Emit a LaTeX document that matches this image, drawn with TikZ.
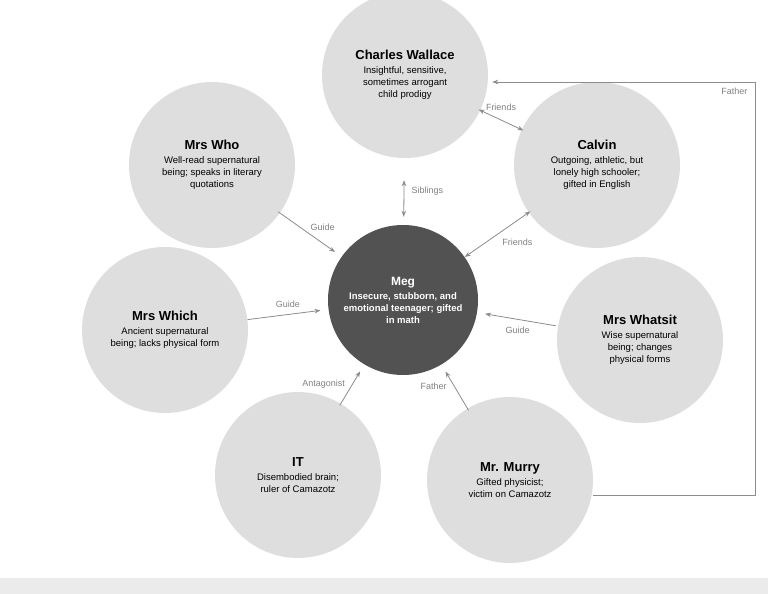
\documentclass[tikz,border=0pt]{standalone}
\usepackage{fontspec}
\setmainfont{Liberation Sans}
\usetikzlibrary{positioning}
\usetikzlibrary{arrows.meta}

\begin{document}
\begin{tikzpicture}[
        x=1pt, y=-1pt,
        person/.style={circle, fill=black!13, minimum size=166pt, align=center, font=\fontsize{9.5}{12}\selectfont, inner sep=0pt},
        hero/.style={circle, fill=black!68, text=white, minimum size=150pt, align=center, font=\bfseries\fontsize{9.5}{12}\selectfont, inner sep=0pt},
        link/.style={draw=black!45, line width=0.8pt, -{Stealth[length=6pt]}, shorten >=8pt, shorten <=8pt},
        tag/.style={text=black!50, font=\fontsize{9}{11}\selectfont}
    ]
        \useasboundingbox (0,0) rectangle (768,594);
        \fill[black!8] (0,578) rectangle (768,594);

        \node[hero] (meg) at (403,300) {{\fontsize{12}{14}\selectfont Meg}\\[2pt]Insecure, stubborn, and\\emotional teenager; gifted\\in math};
        \node[person] (wallace) at (405,75) {{\bfseries\fontsize{13}{15}\selectfont Charles Wallace}\\[2pt]Insightful, sensitive,\\sometimes arrogant\\child prodigy};
        \node[person] (who) at (212,165) {{\bfseries\fontsize{13}{15}\selectfont Mrs Who}\\[2pt]Well-read supernatural\\being; speaks in literary\\quotations};
        \node[person] (calvin) at (597,165) {{\bfseries\fontsize{13}{15}\selectfont Calvin}\\[2pt]Outgoing, athletic, but\\lonely high schooler;\\gifted in English};
        \node[person] (which) at (165,330) {{\bfseries\fontsize{13}{15}\selectfont Mrs Which}\\[2pt]Ancient supernatural\\being; lacks physical form};
        \node[person] (whatsit) at (640,340) {{\bfseries\fontsize{13}{15}\selectfont Mrs Whatsit}\\[2pt]Wise supernatural\\being; changes\\physical forms};
        \node[person] (it) at (298,475) {{\bfseries\fontsize{13}{15}\selectfont IT}\\[2pt]Disembodied brain;\\ruler of Camazotz};
        \node[person] (murry) at (510,480) {{\bfseries\fontsize{13}{15}\selectfont Mr. Murry}\\[2pt]Gifted physicist;\\victim on Camazotz};

        \coordinate (turn1) at (755,495);
        \coordinate (turn2) at (755,82);

        \draw[link, {Stealth[length=6pt]}-{Stealth[length=6pt]}, shorten <=22pt] (wallace) -- node[tag, right=4pt] {Siblings} (meg);
        \draw[link, {Stealth[length=6pt]}-{Stealth[length=6pt]}, shorten <=-2pt, shorten >=-2pt] (wallace) -- node[tag, above=6pt] {Friends} (calvin);
        \draw[link, {Stealth[length=6pt]}-{Stealth[length=6pt]}, shorten <=-2pt, shorten >=0pt] (calvin) -- node[tag, below right=0pt and 2pt] {Friends} (meg);
        \draw[link, shorten <=-2pt] (who) -- node[tag, above right=0pt and -4pt] {Guide} (meg);
        \draw[link, shorten <=0pt] (which) -- node[tag, above=3pt] {Guide} (meg);
        \draw[link, shorten <=2pt] (whatsit) -- node[tag, below=4pt] {Guide} (meg);
        \draw[link, shorten <=-2pt] (it) -- node[tag, left=4pt] {Antagonist} (meg);
        \draw[link, shorten <=-2pt] (murry) -- node[tag, left=4pt] {Father} (meg);
        \draw[link, shorten <=0pt, shorten >=4pt] (murry.east |- turn1) -- (turn1) -- (turn2) node[tag, below left=2pt and 4pt] {Father} -- (wallace.east |- turn2);
\end{tikzpicture}
\end{document}
